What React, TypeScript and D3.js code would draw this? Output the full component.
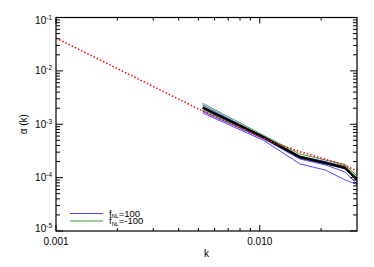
import React from "react";
import * as d3 from "d3";

const kBins = [0.00524, 0.01047, 0.01571, 0.02094, 0.02618, 0.03142];
const meanAlpha = [2.05e-3, 5.66e-4, 2.44e-4, 1.88e-4, 1.52e-4, 7.73e-5];
const bluePos1 = [2.3e-3, 5.78e-4, 2.49e-4, 2.01e-4, 1.58e-4, 7.0e-5];
const bluePos2 = [1.74e-3, 5.31e-4, 2.24e-4, 1.73e-4, 1.28e-4, 6.41e-5];
const bluePos3 = [1.63e-3, 4.98e-4, 1.81e-4, 1.39e-4, 9.06e-5, 7.0e-5];
const greenNeg1 = [2.47e-3, 6.17e-4, 2.78e-4, 2.14e-4, 1.77e-4, 9.06e-5];
const greenNeg2 = [2.15e-3, 5.91e-4, 2.55e-4, 1.97e-4, 1.66e-4, 8.31e-5];
const greenNeg3 = [1.85e-3, 5.53e-4, 2.34e-4, 1.85e-4, 1.52e-4, 7.0e-5];
const kTheory = [0.001, 0.00512, 0.0117, 0.0159, 0.0259, 0.03];
const alphaTheory = [0.0413, 1.85e-3, 4.47e-4, 3.03e-4, 1.73e-4, 1.33e-4];

const xMajor = [0.001, 0.01];
const xMajorLabels = ["0.001", "0.010"];
const xMinor = [0.002, 0.003, 0.004, 0.005, 0.006, 0.007, 0.008, 0.009, 0.02];
const yExps = [-1, -2, -3, -4, -5];
const legendLabels = ["=100", "=-100"];

const L = 56, R = 357, T = 17.5, B = 231;
const font = "'Liberation Sans', Arial, sans-serif";

export default function App() {
  const x = d3.scaleLog().domain([0.001, 0.03]).range([L, R]);
  const y = d3.scaleLog().domain([1e-5, 1e-1]).range([B, T]);
  const line = d3.line<[number, number]>().x((d) => x(d[0])).y((d) => y(d[1]));
  const mk = (ks: number[], vs: number[]) => line(ks.map((k, i) => [k, vs[i]]) as [number, number][]) || "";

  const yMinor: number[] = [];
  for (let e = -5; e < -1; e++) for (let m = 2; m <= 9; m++) yMinor.push(m * Math.pow(10, e));

  const blues = [bluePos1, bluePos2, bluePos3];
  const greens = [greenNeg1, greenNeg2, greenNeg3];
  const blueC = "#4a4aff";
  const greenC = "#3f9f3f";

  return (
    <svg width={374} height={267} style={{ position: "absolute", left: 0, top: 0, background: "#fff" }}>
      <defs>
        <clipPath id="plot">
          <rect x={L} y={T} width={R - L} height={B - T} />
        </clipPath>
      </defs>
      <g clipPath="url(#plot)" fill="none">
        {greens.map((g, i) => (
          <path key={"g" + i} d={mk(kBins, g)} stroke={greenC} strokeWidth={1} />
        ))}
        {blues.map((b, i) => (
          <path key={"b" + i} d={mk(kBins, b)} stroke={blueC} strokeWidth={1} />
        ))}
        <path d={mk(kBins, meanAlpha)} stroke="#000" strokeWidth={2.5} />
        <path d={mk(kTheory, alphaTheory)} stroke="#ff0000" strokeWidth={1.5} strokeDasharray="1.5,2" />
      </g>
      <rect x={L} y={T} width={R - L} height={B - T} fill="none" stroke="#000" strokeWidth={1.2} />
      <g stroke="#000" strokeWidth={1}>
        {xMajor.map((v) => (
          <g key={"xm" + v}>
            <line x1={x(v)} x2={x(v)} y1={B} y2={B - 6} />
            <line x1={x(v)} x2={x(v)} y1={T} y2={T + 6} />
          </g>
        ))}
        {xMinor.map((v) => (
          <g key={"xn" + v}>
            <line x1={x(v)} x2={x(v)} y1={B} y2={B - 3} />
            <line x1={x(v)} x2={x(v)} y1={T} y2={T + 3} />
          </g>
        ))}
        {yExps.map((e) => {
          const yy = y(Math.pow(10, e));
          return (
            <g key={"ym" + e}>
              <line x1={L} x2={L + 7} y1={yy} y2={yy} />
              <line x1={R} x2={R - 7} y1={yy} y2={yy} />
            </g>
          );
        })}
        {yMinor.map((v, i) => (
          <g key={"yn" + i}>
            <line x1={L} x2={L + 4} y1={y(v)} y2={y(v)} />
            <line x1={R} x2={R - 4} y1={y(v)} y2={y(v)} />
          </g>
        ))}
      </g>
      <g fontFamily={font} fill="#000">
        {yExps.map((e) => {
          const yy = Math.min(Math.max(y(Math.pow(10, e)), T + 3), B - 3);
          return (
            <text key={"yl" + e} x={L - 4} y={yy + 3.5} fontSize={10} textAnchor="end">
              10<tspan fontSize={6.5} dy={-4}>{String(e)}</tspan>
            </text>
          );
        })}
        {xMajor.map((v, i) => (
          <text key={"xl" + v} x={x(v)} y={245} fontSize={10} textAnchor="middle">
            {xMajorLabels[i]}
          </text>
        ))}
        <text x={(L + R) / 2} y={257} fontSize={10} textAnchor="middle">k</text>
        <text transform={`translate(27,${(T + B) / 2}) rotate(-90)`} fontSize={10} textAnchor="middle">
          α (k)
        </text>
        {legendLabels.map((lab, i) => {
          const ly = 213.5 + i * 7.5;
          return (
            <g key={"lg" + i}>
              <line x1={70} x2={103} y1={ly} y2={ly} stroke={i === 0 ? blueC : greenC} strokeWidth={1} />
              <text x={109} y={ly + 3} fontSize={9.5}>
                f<tspan fontSize={5.5} dy={1.5}>NL</tspan>
                <tspan dy={-1.5}>{lab}</tspan>
              </text>
            </g>
          );
        })}
      </g>
    </svg>
  );
}
